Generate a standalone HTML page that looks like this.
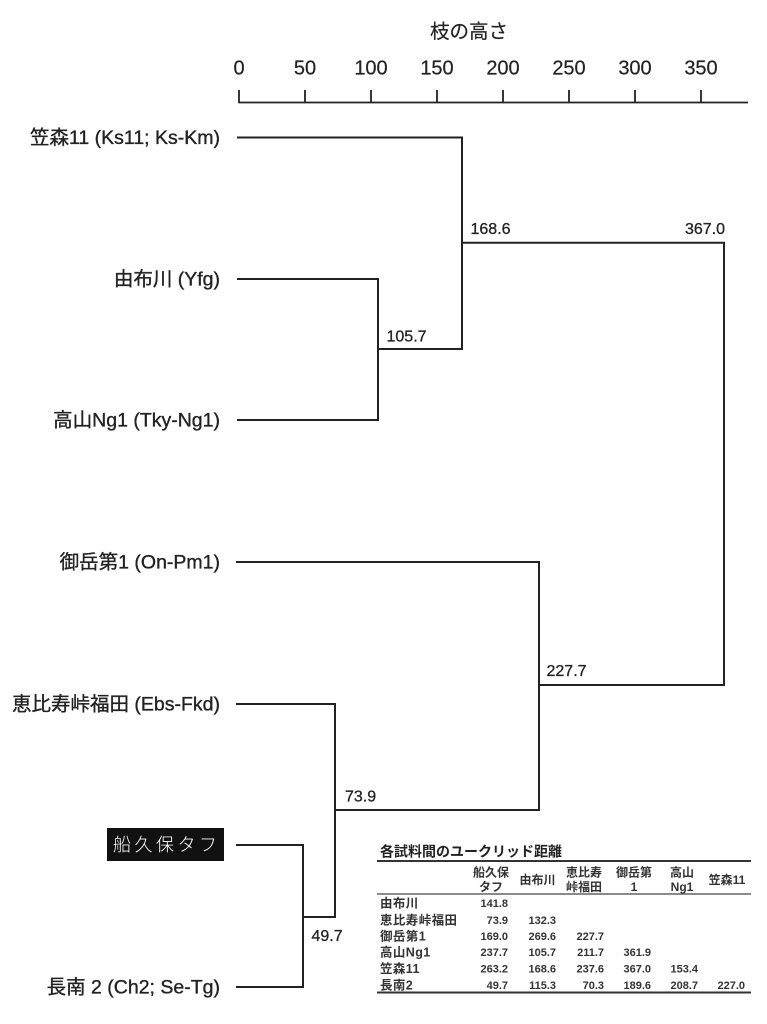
<!DOCTYPE html>
<html>
<head>
<meta charset="utf-8">
<style>
  html,body{margin:0;padding:0;background:#fff;}
  body{width:767px;height:1024px;overflow:hidden;}
  svg{display:block;}
  .lbl{font-family:"Liberation Sans","Noto Sans CJK JP",sans-serif;font-size:19.5px;fill:#222;stroke:#222;stroke-width:0.35px;}
  .ax{font-family:"Liberation Sans","Noto Sans CJK JP",sans-serif;font-size:20px;fill:#222;stroke:#222;stroke-width:0.2px;}
  .nd{font-family:"Liberation Sans",sans-serif;font-size:16px;fill:#222;stroke:#222;stroke-width:0.3px;}
  .tt{font-family:"Liberation Sans","Noto Sans CJK JP",sans-serif;font-size:14px;font-weight:bold;fill:#222;}
  .th{font-family:"Liberation Sans","Noto Sans CJK JP",sans-serif;font-size:12px;font-weight:bold;fill:#333;}
  .tr{font-family:"Liberation Sans","Noto Sans CJK JP",sans-serif;font-size:12.5px;font-weight:bold;fill:#333;letter-spacing:0.4px;}
  .tn{font-family:"Liberation Sans",sans-serif;font-size:11px;font-weight:bold;fill:#333;}
</style>
</head>
<body>
<svg width="767" height="1024" viewBox="0 0 767 1024" xmlns="http://www.w3.org/2000/svg">
  <!-- Axis title -->
  <text class="ax" x="469" y="38" text-anchor="middle" style="font-size:19.5px">枝の高さ</text>
  <!-- Axis numbers -->
  <g class="ax" text-anchor="middle">
    <text x="239" y="74.5">0</text>
    <text x="305" y="74.5">50</text>
    <text x="371" y="74.5">100</text>
    <text x="437" y="74.5">150</text>
    <text x="503" y="74.5">200</text>
    <text x="569" y="74.5">250</text>
    <text x="635" y="74.5">300</text>
    <text x="701" y="74.5">350</text>
  </g>
  <!-- Axis line and ticks -->
  <g stroke="#222" stroke-width="1.8" fill="none">
    <line x1="238.5" y1="102.5" x2="748" y2="102.5"/>
    <line x1="239" y1="90" x2="239" y2="103"/>
    <line x1="305" y1="90" x2="305" y2="103"/>
    <line x1="371" y1="90" x2="371" y2="103"/>
    <line x1="437" y1="90" x2="437" y2="103"/>
    <line x1="503" y1="90" x2="503" y2="103"/>
    <line x1="569" y1="90" x2="569" y2="103"/>
    <line x1="635" y1="90" x2="635" y2="103"/>
    <line x1="701" y1="90" x2="701" y2="103"/>
  </g>

  <!-- Dendrogram lines -->
  <g stroke="#222" stroke-width="2" fill="none" stroke-linecap="square">
    <polyline points="238,137.5 462,137.5 462,349"/>
    <polyline points="238,279 378,279 378,420 238,420"/>
    <line x1="378" y1="349" x2="462" y2="349"/>
    <polyline points="462,242.7 724,242.7 724,685 539,685"/>
    <polyline points="237,562 539,562 539,810"/>
    <polyline points="237,704 335,704 335,917"/>
    <line x1="335" y1="810" x2="539" y2="810"/>
    <polyline points="237,845 303,845 303,987 237,987"/>
    <line x1="303" y1="917" x2="335" y2="917"/>
  </g>

  <!-- Leaf labels -->
  <g class="lbl" text-anchor="end">
    <text x="220" y="144">笠森11 (Ks11; Ks-Km)</text>
    <text x="220" y="285.5">由布川 (Yfg)</text>
    <text x="220" y="426.5">高山Ng1 (Tky-Ng1)</text>
    <text x="220" y="568.5">御岳第1 (On-Pm1)</text>
    <text x="220" y="710.5">恵比寿峠福田 (Ebs-Fkd)</text>
    <text x="220" y="993.5">長南 2 (Ch2; Se-Tg)</text>
  </g>
  <rect x="107" y="828" width="117" height="33" fill="#111"/>
  <text x="113" y="851" style="font-family:'Noto Sans CJK JP',sans-serif;font-size:18px;font-weight:300;fill:#fff;letter-spacing:3.5px">船久保タフ</text>

  <!-- Node labels -->
  <g class="nd">
    <text x="470.5" y="234">168.6</text>
    <text x="725" y="234" text-anchor="end">367.0</text>
    <text x="386.5" y="341.5">105.7</text>
    <text x="546.5" y="676">227.7</text>
    <text x="345" y="801.5">73.9</text>
    <text x="311.5" y="941">49.7</text>
  </g>

  <!-- Table -->
  <text class="tt" x="380" y="856.5">各試料間のユークリッド距離</text>
  <line x1="377" y1="861" x2="751" y2="861" stroke="#333" stroke-width="2"/>
  <line x1="377" y1="894" x2="751" y2="894" stroke="#444" stroke-width="1.3"/>
  <line x1="377" y1="992.5" x2="751" y2="992.5" stroke="#333" stroke-width="2"/>

  <g class="th" text-anchor="middle">
    <text x="491" y="876.5">船久保</text>
    <text x="491" y="891">タフ</text>
    <text x="537.5" y="884">由布川</text>
    <text x="584" y="876.5">恵比寿</text>
    <text x="584" y="891">峠福田</text>
    <text x="634" y="876.5">御岳第</text>
    <text x="634" y="891">1</text>
    <text x="682" y="876.5">高山</text>
    <text x="682" y="891">Ng1</text>
    <text x="727" y="884">笠森11</text>
  </g>

  <g class="tr">
    <text x="380" y="907.5">由布川</text>
    <text x="380" y="924.5">恵比寿峠福田</text>
    <text x="380" y="940.5">御岳第1</text>
    <text x="380" y="956.5">高山Ng1</text>
    <text x="380" y="973">笠森11</text>
    <text x="380" y="989.5">長南2</text>
  </g>

  <g class="tn" text-anchor="end">
    <text x="508" y="907">141.8</text>

    <text x="508" y="924">73.9</text>
    <text x="556" y="924">132.3</text>

    <text x="508" y="940">169.0</text>
    <text x="556" y="940">269.6</text>
    <text x="604" y="940">227.7</text>

    <text x="508" y="956">237.7</text>
    <text x="556" y="956">105.7</text>
    <text x="604" y="956">211.7</text>
    <text x="651" y="956">361.9</text>

    <text x="508" y="972.5">263.2</text>
    <text x="556" y="972.5">168.6</text>
    <text x="604" y="972.5">237.6</text>
    <text x="651" y="972.5">367.0</text>
    <text x="698" y="972.5">153.4</text>

    <text x="508" y="989">49.7</text>
    <text x="556" y="989">115.3</text>
    <text x="604" y="989">70.3</text>
    <text x="651" y="989">189.6</text>
    <text x="698" y="989">208.7</text>
    <text x="745" y="989">227.0</text>
  </g>
</svg>
</body>
</html>
